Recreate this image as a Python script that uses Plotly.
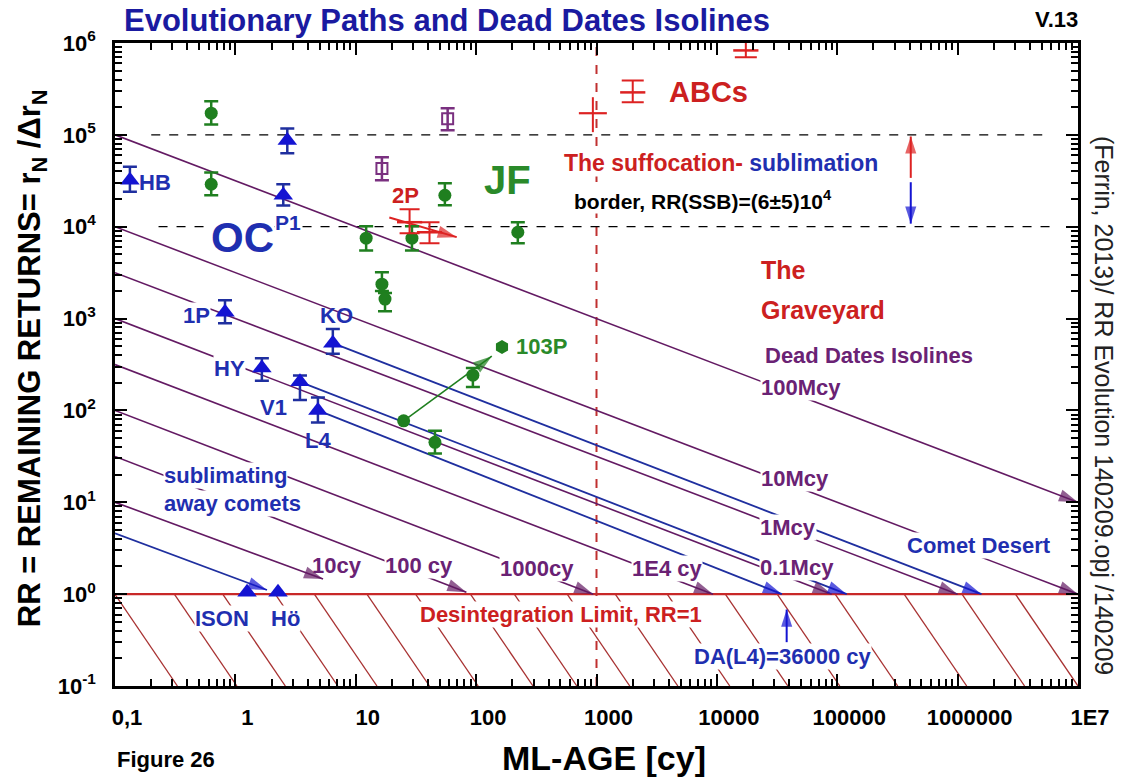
import numpy as np
import plotly.graph_objects as go

FONT = "Liberation Sans"

# ---------------- axis ticks ----------------
x_tickvals = [0.1, 1, 10, 100, 1e3, 1e4, 1e5, 1e6, 1e7]
x_ticktext = ["0,1", "1", "10", "100", "1000", "10000", "100000", "1000000", "1E7"]
y_tickvals = [0.1, 1, 10, 100, 1e3, 1e4, 1e5, 1e6]
y_ticktext = ["10<sup>-1</sup>", "10<sup>0</sup>", "10<sup>1</sup>", "10<sup>2</sup>",
              "10<sup>3</sup>", "10<sup>4</sup>", "10<sup>5</sup>", "10<sup>6</sup>"]

# ---------------- dead-date isolines ----------------
iso_labels = ["10cy", "100 cy", "1000cy", "1E4 cy", "0.1Mcy", "1Mcy", "10Mcy", "100Mcy"]
iso_start_age = [0.1, 0.1, 0.1, 0.1, 0.1, 0.1, 0.1, 0.1]
iso_start_rr = [10, 31.6, 100, 316, 1000, 3160, 1.0e4, 1.0e5]
iso_end_age = [5.35, 83, 940, 9300, 9.0e4, 1.0e6, 1.0e7, 1.0e7]
iso_end_rr = [1.46, 1.05, 1.0, 1.0, 1.0, 1.0, 1.0, 10.0]

# ---------------- evolutionary paths (blue) ----------------
path_start_age = [6.45, 3.44, 4.85, 0.1]
path_start_rr = [540, 205, 100, 4.6]
path_end_age = [1.58e6, 1.2e5, 3.47e4, 1.83]
path_end_rr = [1.0, 1.0, 1.0, 1.11]

# ---------------- OC comets (triangles) ----------------
oc_names = ["HB", "P1", "P1", "1P", "HY", "V1", "L4", "KO"]
oc_age = [0.133, 2.7, 2.5, 0.82, 1.66, 3.44, 4.85, 6.45]
oc_rr = [3.2e4, 8.7e4, 2.2e4, 1170, 290, 205, 100, 540]
oc_rr_hi = [4.5e4, 1.17e5, 2.9e4, 1580, 370, 240, 138, 770]
oc_rr_lo = [2.4e4, 6.3e4, 1.7e4, 890, 210, 130, 74, 415]

sa_names = ["ISON", "Hö"]
sa_age = [1.25, 2.26]
sa_rr = [1.05, 1.05]

# ---------------- JF comets (green) ----------------
jf_age = [0.63, 0.63, 12.2, 29.3, 222, 16.5, 17.5, 94, 45.5, 55]
jf_rr = [1.72e5, 2.9e4, 7.5e3, 7.5e3, 8.7e3, 2.37e3, 1.63e3, 242, 45, 2.2e4]
jf_rr_hi = [2.32e5, 3.9e4, 1.01e4, 1.01e4, 1.12e4, 3.2e3, 1.9e3, 290, 60, 2.97e4]
jf_rr_lo = [1.30e5, 2.2e4, 5.5e3, 5.5e3, 6.6e3, 2.0e3, 1.2e3, 180, 34, 1.71e4]

p103_from_age, p103_from_rr = 25, 77
p103_to_age, p103_to_rr = 135, 390
p103_now_age, p103_now_rr = 164, 489

# ---------------- purple squares ----------------
sq_age = [16.5, 58]
sq_rr = [4.3e4, 1.5e5]
sq_rr_hi = [5.7e4, 1.95e5]
sq_rr_lo = [3.2e4, 1.12e5]

# ---------------- red: ABCs, 2P ----------------
abc_age = [2000, 1.74e4]
abc_rr = [2.9e5, 8.3e5]
abc_rr_hi = [3.9e5, 1.1e6]
abc_rr_lo = [2.26e5, 7.0e5]
plus_age = [933]
plus_rr = [1.72e5]
plus_rr_hi = [2.57e5]
plus_rr_lo = [1.07e5]
p2_age = [28, 41]
p2_rr = [1.12e4, 8.7e3]
p2_rr_hi = [1.55e4, 1.12e4]
p2_rr_lo = [8.5e3, 6.6e3]
p2_arrow_age = [19, 69]
p2_arrow_rr = [1.26e4, 7.7e3]

# ---------------- borders / limits ----------------
ssb_levels = [1e5, 1e4]
ssb_x0 = [0.2, 0.23]
ssb_x1 = [5.3e6, 6.0e6]
ssb_arrow_age = 4.08e5
ssb_red_rr = [3.4e4, 9.6e4]
ssb_blue_rr = [3.05e4, 1.08e4]
graveyard_age = 1000
disint_rr = 1.0
da_age = 3.8e4
da_rr = [0.30, 0.68]
hatch_bottom_age = [0.33, 1.03, 2.6, 7.1, 15, 41, 104, 297, 687, 1890, 4740,
                    12800, 38900, 1.05e5, 3.18e5, 1.19e6, 3.6e6, 1.0e7]
hatch_span_decades = 0.52

# ---------------- colours ----------------
PURPLE = "#631a63"
PURPLE_T = "#6a2274"
BLUE_M = "#1414d2"
BLUE_L = "#1f2f9f"
BLUE_T = "#1f2fb0"
GREEN = "#1f7f1f"
GREEN_T = "#2a8a2a"
RED = "#dd2222"
RED_T = "#cc2020"
HATCH = "#a83232"
SQ = "#7a3080"

fig = go.Figure()

def line(xs, ys, color, width=1.5, dash=None):
    fig.add_trace(go.Scatter(x=xs, y=ys, mode="lines",
                             line=dict(color=color, width=width, dash=dash),
                             hoverinfo="skip", showlegend=False))

def head(x0, y0, x1, y1, color, size=20):
    # arrowhead marker at (x1, y1), oriented along the segment from (x0, y0)
    fig.add_trace(go.Scatter(x=[x0, x1], y=[y0, y1], mode="markers",
                             marker=dict(symbol="arrow", size=[0, size], angleref="previous",
                                         color=color, line=dict(width=0)),
                             hoverinfo="skip", showlegend=False))

# hatching below RR=1
for xb in hatch_bottom_age:
    line([xb * 10 ** (-hatch_span_decades), xb], [disint_rr, 0.1], HATCH, 1.3)

# disintegration limit
line([0.1, 1e7], [disint_rr, disint_rr], "#c82828", 2.2)
# graveyard vertical
line([graveyard_age, graveyard_age], [0.1, 1e6], "#c03030", 2, "dash")
# SSB border dashed lines
for lev, a, b in zip(ssb_levels, ssb_x0, ssb_x1):
    line([a, b], [lev, lev], "black", 1.2, "dash")

# isolines
for a0, r0, a1, r1 in zip(iso_start_age, iso_start_rr, iso_end_age, iso_end_rr):
    line([a0, a1], [r0, r1], PURPLE, 1.6)
# blue paths
for a0, r0, a1, r1 in zip(path_start_age, path_start_rr, path_end_age, path_end_rr):
    line([a0, a1], [r0, r1], BLUE_L, 1.8)
# 103P arrow, 2P arrow, SSB arrows, DA arrow
line([p103_from_age, p103_to_age], [p103_from_rr, p103_to_rr], GREEN, 1.6)
line(p2_arrow_age, p2_arrow_rr, RED, 2)
line([ssb_arrow_age, ssb_arrow_age], ssb_red_rr, RED, 2)
line([ssb_arrow_age, ssb_arrow_age], ssb_blue_rr, BLUE_M, 2)
line([da_age, da_age], da_rr, BLUE_M, 2)

def err(hi, lo, vals, color, width=7, thick=2.5):
    return dict(type="data", symmetric=False,
                array=[h - v for h, v in zip(hi, vals)],
                arrayminus=[v - l for l, v in zip(lo, vals)],
                color=color, thickness=thick, width=width)

# JF
fig.add_trace(go.Scatter(x=jf_age, y=jf_rr, mode="markers",
                         marker=dict(symbol="circle", size=13, color=GREEN),
                         error_y=err(jf_rr_hi, jf_rr_lo, jf_rr, GREEN),
                         showlegend=False, hoverinfo="skip"))
fig.add_trace(go.Scatter(x=[p103_from_age], y=[p103_from_rr], mode="markers",
                         marker=dict(symbol="circle", size=13, color=GREEN),
                         showlegend=False, hoverinfo="skip"))
fig.add_trace(go.Scatter(x=[p103_now_age], y=[p103_now_rr], mode="markers",
                         marker=dict(symbol="hexagon", size=14, color=GREEN),
                         showlegend=False, hoverinfo="skip"))
# squares
fig.add_trace(go.Scatter(x=sq_age, y=sq_rr, mode="markers",
                         marker=dict(symbol="square-open", size=11, color=SQ, line=dict(width=2, color=SQ)),
                         error_y=err(sq_rr_hi, sq_rr_lo, sq_rr, SQ, 7, 2.5),
                         showlegend=False, hoverinfo="skip"))
# red marks
fig.add_trace(go.Scatter(x=abc_age, y=abc_rr, mode="markers",
                         marker=dict(symbol="line-ew", size=18, color=RED, line=dict(width=2.5, color=RED)),
                         error_y=err(abc_rr_hi, abc_rr_lo, abc_rr, RED, 11, 2),
                         showlegend=False, hoverinfo="skip"))
fig.add_trace(go.Scatter(x=plus_age, y=plus_rr, mode="markers",
                         marker=dict(symbol="line-ew", size=20, color=RED, line=dict(width=2.2, color=RED)),
                         error_y=err(plus_rr_hi, plus_rr_lo, plus_rr, RED, 0, 2),
                         showlegend=False, hoverinfo="skip"))
fig.add_trace(go.Scatter(x=p2_age, y=p2_rr, mode="markers",
                         marker=dict(symbol="line-ew", size=18, color=RED, line=dict(width=2.5, color=RED)),
                         error_y=err(p2_rr_hi, p2_rr_lo, p2_rr, RED, 10, 2),
                         showlegend=False, hoverinfo="skip"))
# OC triangles
fig.add_trace(go.Scatter(x=oc_age, y=oc_rr, mode="markers",
                         marker=dict(symbol="triangle-up", size=17, color=BLUE_M),
                         error_y=err(oc_rr_hi, oc_rr_lo, oc_rr, BLUE_L, 7, 2.5),
                         showlegend=False, hoverinfo="skip"))
fig.add_trace(go.Scatter(x=sa_age, y=sa_rr, mode="markers",
                         marker=dict(symbol="triangle-up", size=17, color=BLUE_M),
                         showlegend=False, hoverinfo="skip"))

# arrowheads
for a0, r0, a1, r1 in zip(iso_start_age, iso_start_rr, iso_end_age, iso_end_rr):
    head(a0, r0, a1, r1, PURPLE)
for a0, r0, a1, r1 in zip(path_start_age, path_start_rr, path_end_age, path_end_rr):
    head(a0, r0, a1, r1, BLUE_M)
head(p103_from_age, p103_from_rr, p103_to_age, p103_to_rr, GREEN)
head(p2_arrow_age[0], p2_arrow_rr[0], p2_arrow_age[1], p2_arrow_rr[1], RED)
head(ssb_arrow_age, ssb_red_rr[0], ssb_arrow_age, ssb_red_rr[1], RED, 18)
head(ssb_arrow_age, ssb_blue_rr[0], ssb_arrow_age, ssb_blue_rr[1], BLUE_M, 18)
head(da_age, da_rr[0], da_age, da_rr[1], BLUE_M, 18)

annotations = []

def label(text, lx, ly, size, color, bg=True, xanchor="center", weight="bold"):
    annotations.append(dict(text=text, x=lx, y=ly, xref="x", yref="y", showarrow=False,
                            xanchor=xanchor, yanchor="middle",
                            font=dict(family=FONT, size=size, color=color, weight=weight),
                            bgcolor="white" if bg else "rgba(0,0,0,0)", borderpad=0))

# labels inside the plot (positions in log10 units of the axes)
label("HB", -0.809, 4.484, 22, BLUE_T, False, "left")
label("OC", 0.063, 3.886, 42, BLUE_T)
label("P1", 0.437, 4.049, 21, BLUE_T)
label("1P", -0.327, 3.037, 22, BLUE_T)
label("HY", -0.045, 2.46, 22, BLUE_T)
label("V1", 0.32, 2.036, 22, BLUE_T, False)
label("L4", 0.686, 1.677, 22, BLUE_T, False)
label("KO", 0.836, 3.037, 22, BLUE_T, False)
label("103P", 2.547, 2.70, 22, GREEN_T, False)
label("sublimating", -0.086, 1.296, 22, BLUE_T)
label("away comets", -0.028, 0.991, 22, BLUE_T)
label("ISON", -0.111, -0.26, 22, BLUE_T)
label("Hö", 0.42, -0.26, 22, BLUE_T)
label("10cy", 0.844, 0.317, 22, PURPLE_T, False)
label("100 cy", 1.525, 0.317, 22, PURPLE_T)
label("1000cy", 2.505, 0.284, 22, PURPLE_T)
label("1E4 cy", 3.585, 0.284, 22, PURPLE_T)
label("0.1Mcy", 4.664, 0.295, 22, PURPLE_T)
label("1Mcy", 4.59, 0.730, 22, PURPLE_T)
label("10Mcy", 4.648, 1.263, 22, PURPLE_T)
label("100Mcy", 4.698, 2.254, 22, PURPLE_T)
label("Dead Dates Isolines", 5.262, 2.602, 22, PURPLE_T)
label("The", 4.357, 3.527, 25, RED_T, False, "left")
label("Graveyard", 4.357, 3.091, 25, RED_T, False, "left")
label("Comet Desert", 6.176, 0.534, 22, BLUE_T)
label("DA(L4)=36000 cy", 4.548, -0.684, 22, BLUE_T)
label("Desintegration Limit, RR=1", 2.704, -0.227, 22, RED_T)
label("<span style='color:#cc2020'>The suffocation-</span> <span style='color:#1f2fb0'>sublimation</span>",
      4.033, 4.691, 23, RED_T)
label("border, RR(SSB)=(6±5)10<sup>4</sup>", 3.884, 4.288, 21, "black")
label("ABCs", 3.934, 5.464, 29, RED_T, False)
label("JF", 2.264, 4.506, 40, GREEN_T, False)
label("2P", 1.417, 4.343, 22, RED_T, False)

# texts outside the plot
def ptext(text, x, y, size, color="black", xanchor="center", angle=0, weight="bold"):
    annotations.append(dict(text=text, x=x, y=y, xref="paper", yref="paper", showarrow=False,
                            xanchor=xanchor, yanchor="middle", textangle=angle,
                            font=dict(family=FONT, size=size, color=color, weight=weight)))

ptext("Evolutionary Paths and Dead Dates Isolines", 0.007, 1.035, 31, "#1a1aa0", "left")
ptext("V.13", 1.002, 1.036, 22, "black", "right")
ptext("Figure 26", 0.0, -0.115, 22, "black", "left")
ptext("ML-AGE [cy]", 0.508, -0.112, 34)
ptext("RR = REMAINING RETURNS= r<sub>N</sub> /Δr<sub>N</sub>", -0.086, 0.51, 31, angle=-90)
ptext("(Ferrin, 2013)/ RR Evolution 140209.opj /140209", 1.027, 0.437, 25, "#222222",
      angle=90, weight="normal")

minor_x = [m * 10.0 ** k for k in range(-1, 7) for m in range(2, 10)]
minor_y = [m * 10.0 ** k for k in range(-1, 6) for m in range(2, 10)]

axis_common = dict(type="log", ticks="inside", ticklen=12, tickwidth=2, tickcolor="black",
                   showline=True, linewidth=2.5, linecolor="black", mirror="allticks",
                   showgrid=False, zeroline=False,
                   tickfont=dict(family=FONT, size=22, color="black", weight="bold"))

fig.update_layout(
    width=1123, height=778,
    margin=dict(l=115, r=45, t=43, b=92),
    paper_bgcolor="white", plot_bgcolor="white", showlegend=False,
    xaxis=dict(range=[-1, 7], tickmode="array", tickvals=x_tickvals, ticktext=x_ticktext,
               ticklabelstandoff=10, ticklabelshift=12,
               minor=dict(ticks="inside", ticklen=7, tickwidth=1.5, tickcolor="black",
                          tickmode="array", tickvals=minor_x, showgrid=False),
               **axis_common),
    yaxis=dict(range=[-1, 6], tickmode="array", tickvals=y_tickvals, ticktext=y_ticktext,
               ticklabelstandoff=12,
               minor=dict(ticks="inside", ticklen=7, tickwidth=1.5, tickcolor="black",
                          tickmode="array", tickvals=minor_y, showgrid=False),
               **axis_common),
    annotations=annotations,
)

fig.write_html("out.html")
